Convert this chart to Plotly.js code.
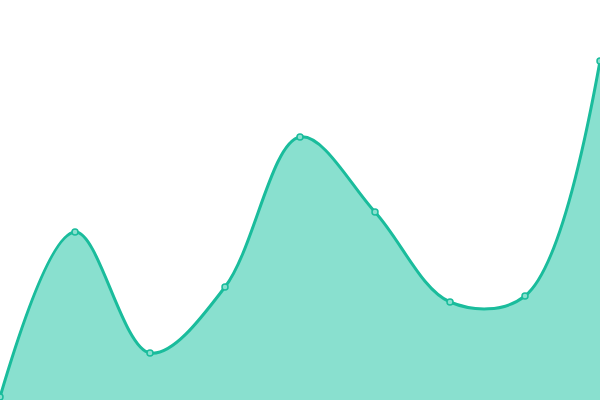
<!DOCTYPE html>
<html>
<head>
<meta charset="utf-8">
<script src="https://cdn.plot.ly/plotly-3.0.1.min.js"></script>
<style>
  html, body { margin: 0; padding: 0; background: #fff; }
  #chart { width: 600px; height: 400px; }
</style>
</head>
<body>
<div id="chart"></div>
<script>
const xValues = [0, 1, 2, 3, 4, 5, 6, 7, 8];
const yValues = [3, 168, 47, 113, 263, 188, 98, 104, 339];

const lineColor = '#1abc9c';
const fillColor = '#89e0cf';

const data = [{
  x: xValues,
  y: yValues,
  type: 'scatter',
  mode: 'lines+markers',
  fill: 'tozeroy',
  fillcolor: fillColor,
  line: { color: lineColor, width: 3, shape: 'spline', smoothing: 1 },
  marker: { size: 6, color: fillColor, line: { color: lineColor, width: 1.5 } },
  cliponaxis: false,
  hoverinfo: 'x+y'
}];

const layout = {
  width: 600,
  height: 400,
  paper_bgcolor: '#fff',
  plot_bgcolor: '#fff',
  margin: { l: 0, r: 0, t: 0, b: 0 },
  showlegend: false,
  xaxis: { range: [0, 8], visible: false, fixedrange: true },
  yaxis: { range: [0, 400], visible: false, fixedrange: true }
};

Plotly.newPlot('chart', data, layout, { displayModeBar: false, staticPlot: true });
</script>
</body>
</html>
